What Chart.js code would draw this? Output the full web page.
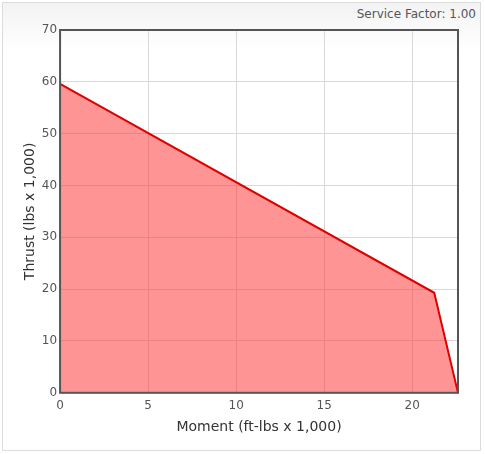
<!DOCTYPE html>
<html>
<head>
<meta charset="utf-8">
<script src="https://cdn.jsdelivr.net/npm/chart.js@4"></script>
<style>
  html, body { margin:0; padding:0; background:#fff; }
  #panel {
    position:absolute; left:2px; top:2px; width:477px; height:447px;
    border:1px solid #dcdcdc;
    background:linear-gradient(#f3f3f3 0px, #ffffff 48px);
  }
  #sf {
    position:absolute; right:9px; top:7px;
    font:12px 'DejaVu Sans', Verdana, sans-serif; line-height:14px; color:#555;
  }
  #wrap { position:absolute; left:0; top:0; width:485px; height:454px; }
</style>
</head>
<body>
<div id="panel"></div>
<div id="sf"></div>
<div id="wrap"><canvas id="chart"></canvas></div>
<script>
// 데이터
const momentVals = [0, 21.25, 22.6]
const thrustVals = [59.6, 19.3, 0]
const xTicks = [0, 5, 10, 15, 20]
const serviceFactor = "Service Factor: 1.00"

document.getElementById("sf").textContent = serviceFactor

const points = momentVals.map((m, i) => ({ x: m, y: thrustVals[i] }))

// 테두리
const frame = {
    id: 'frame',
    afterDraw(chart){
        const a = chart.chartArea
        const ctx = chart.ctx
        ctx.save()
        ctx.strokeStyle = '#555'
        ctx.lineWidth = 2
        ctx.strokeRect(a.left, a.top, a.right - a.left, a.bottom - a.top)
        ctx.restore()
    }
}

Chart.defaults.font.family = "'DejaVu Sans', Verdana, sans-serif"

new Chart(document.getElementById("chart"), {
    type: 'line',
    data: {
        datasets: [{
            data: points,
            borderColor: '#e00000',
            borderWidth: 2,
            backgroundColor: 'rgba(255,60,60,0.55)',
            fill: 'origin',
            pointRadius: 0,
            tension: 0
        }]
    },
    options: {
        responsive: true,
        maintainAspectRatio: false,
        animation: false,
        layout: { padding: { left: 22, right: 27, top: 30, bottom: 12 } },
        plugins: {
            legend: { display: false },
            tooltip: { enabled: false }
        },
        scales: {
            x: {
                type: 'linear',
                min: 0,
                max: momentVals[momentVals.length - 1],
                afterBuildTicks: s => { s.ticks = xTicks.map(v => ({ value: v })) },
                ticks: { color: '#555', font: { size: 12 }, padding: 6 },
                grid: { color: '#d8d8d8', drawTicks: false },
                border: { display: false },
                title: { display: true, text: 'Moment (ft-lbs x 1,000)', color: '#333', font: { size: 14 }, padding: { top: 0, bottom: 6 } }
            },
            y: {
                min: 0,
                max: 70,
                ticks: { stepSize: 10, color: '#555', font: { size: 12 }, padding: 3 },
                grid: { color: '#d8d8d8', drawTicks: false },
                border: { display: false },
                title: { display: true, text: 'Thrust (lbs x 1,000)', color: '#333', font: { size: 14 }, padding: { top: 0, bottom: 0 } }
            }
        }
    },
    plugins: [frame]
})
</script>
</body>
</html>
